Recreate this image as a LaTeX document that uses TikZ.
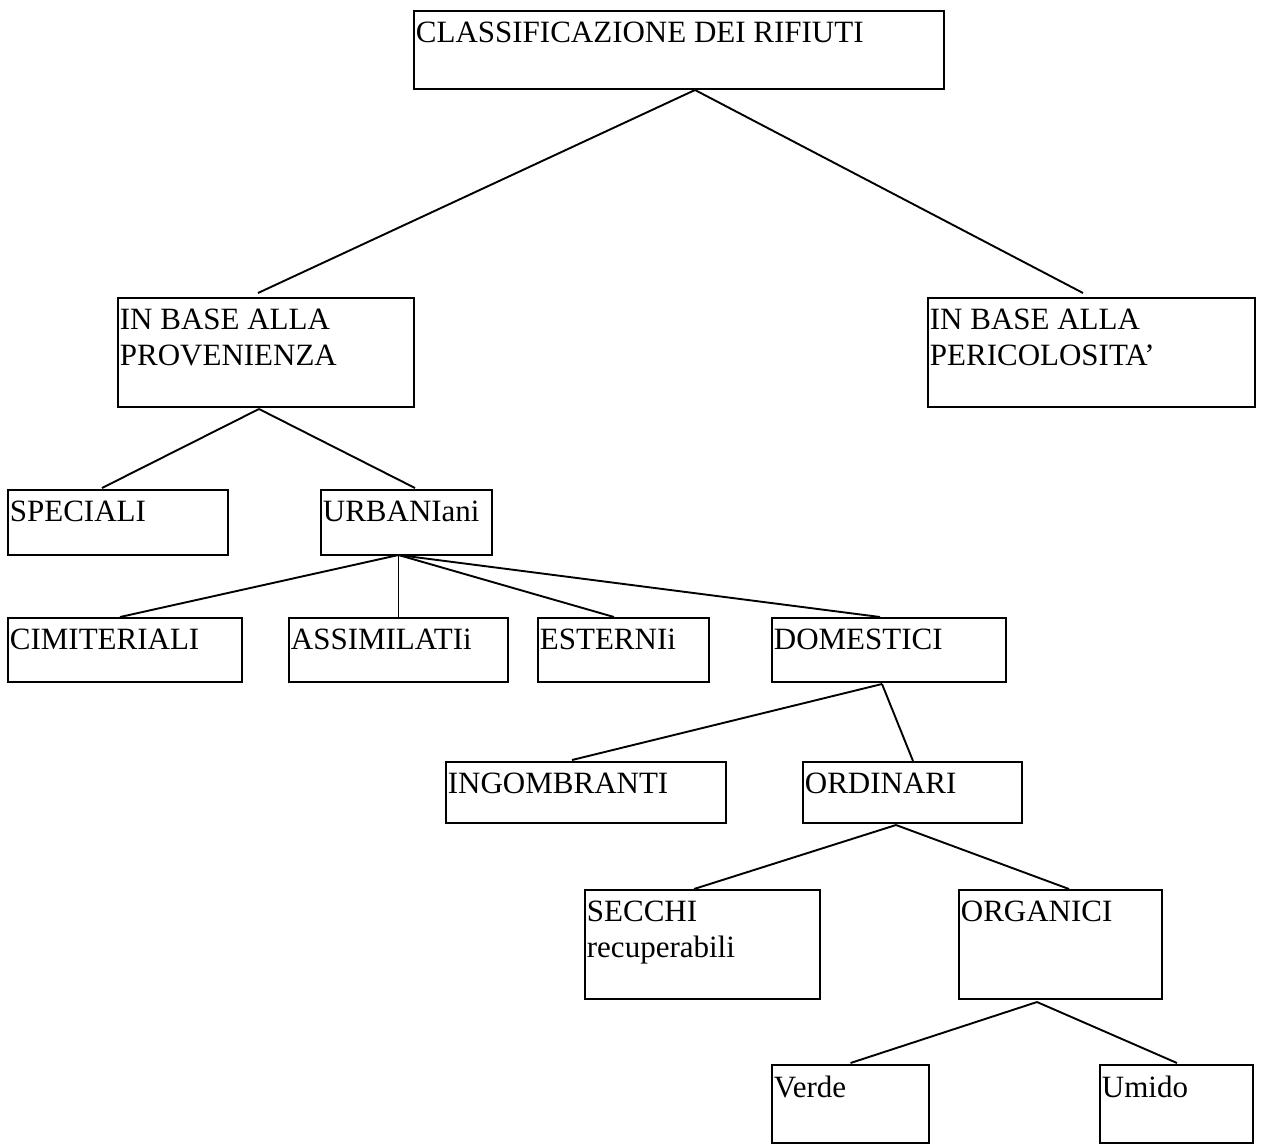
\documentclass[tikz,border=0pt]{standalone}
\usepackage{fontspec}
\setmainfont{Liberation Serif}
\usetikzlibrary{calc}

\tikzset{
  box/.style={draw, line width=1pt, rectangle, anchor=north west, inner sep=0pt, outer sep=0pt},
  lbl/.style={anchor=north west, inner sep=0pt, align=left,
    font=\fontsize{15.5pt}{18pt}\selectfont, xshift=0.75pt, yshift=-5.25pt},
  link/.style={line width=0.95pt}
}

\begin{document}
\begin{tikzpicture}[x=0.5pt, y=-0.5pt]
  \path[use as bounding box, fill=white] (0,0) rectangle (1262,1146);

  % level 0 and 1
  \node[box, minimum width=265pt, minimum height=39pt,
    label={[lbl]north west:CLASSIFICAZIONE DEI RIFIUTI}] (classif) at (414,11) {};
  \node[box, minimum width=148pt, minimum height=54.5pt,
    label={[lbl]north west:IN BASE ALLA\\PROVENIENZA}] (prov) at (118,298) {};
  \node[box, minimum width=163.5pt, minimum height=54.5pt,
    label={[lbl]north west:IN BASE ALLA\\PERICOLOSITA’}] (peric) at (928,298) {};

  % level 2
  \node[box, minimum width=110pt, minimum height=32.5pt,
    label={[lbl]north west:SPECIALI}] (spec) at (8,490) {};
  \node[box, minimum width=85.5pt, minimum height=32.5pt,
    label={[lbl]north west:URBANIani}] (urb) at (321,490) {};

  % level 3
  \node[box, minimum width=117pt, minimum height=32pt,
    label={[lbl]north west:CIMITERIALI}] (cim) at (8,618) {};
  \node[box, minimum width=109.5pt, minimum height=32pt,
    label={[lbl]north west:ASSIMILATIi}] (assim) at (289,618) {};
  \node[box, minimum width=85.5pt, minimum height=32pt,
    label={[lbl]north west:ESTERNIi}] (est) at (538,618) {};
  \node[box, minimum width=117pt, minimum height=32pt,
    label={[lbl]north west:DOMESTICI}] (dom) at (772,618) {};

  % level 4
  \node[box, minimum width=140pt, minimum height=30.5pt,
    label={[lbl]north west:INGOMBRANTI}] (ingo) at (446,762) {};
  \node[box, minimum width=109.5pt, minimum height=30.5pt,
    label={[lbl]north west:ORDINARI}] (ord) at (803,762) {};

  % level 5
  \node[box, minimum width=117.5pt, minimum height=54.5pt,
    label={[lbl]north west:SECCHI\\recuperabili}] (secchi) at (585,890) {};
  \node[box, minimum width=101.5pt, minimum height=54.5pt,
    label={[lbl]north west:ORGANICI}] (org) at (959,890) {};

  % level 6
  \node[box, minimum width=78.5pt, minimum height=39pt,
    label={[lbl]north west:Verde}] (verde) at (772,1065) {};
  \node[box, minimum width=76.5pt, minimum height=39pt,
    label={[lbl]north west:Umido}] (umido) at (1100,1065) {};

  % branch points under each parent
  \coordinate (classif-b) at ($(classif.south)+(16,1)$);
  \coordinate (prov-b) at ($(prov.south)+(-7,2)$);
  \coordinate (urb-b) at ($(urb.south)+(-8,0)$);
  \coordinate (dom-b) at ($(dom.south)+(-7,2)$);
  \coordinate (ord-b) at ($(ord.south)+(-16.5,2)$);
  \coordinate (org-b) at ($(org.south)+(-23.5,3)$);

  % connectors
  \draw[link] (classif-b) -- ($(prov.north)+(-8,-5)$);
  \draw[link] (classif-b) -- ($(peric.north)+(-8.5,-5)$);
  \draw[link] (prov-b) -- ($(spec.north)+(-16,-2)$);
  \draw[link] (prov-b) -- ($(urb.north)+(8.5,-2)$);
  \draw[link] (urb-b) -- ($(cim.north)+(-5,-1)$);
  \draw[link] (urb-b) -- ($(assim.north)+(0,-1)$);
  \draw[link] (urb-b) -- ($(est.north)+(-9.5,-1)$);
  \draw[link] (urb-b) -- ($(dom.north)+(-9,-1)$);
  \draw[link] (dom-b) -- ($(ingo.north)+(-14,-2)$);
  \draw[link] (dom-b) -- ($(ord.north)+(0.5,-1)$);
  \draw[link] (ord-b) -- ($(secchi.north)+(-8.5,-1)$);
  \draw[link] (ord-b) -- ($(org.north)+(8.5,-1)$);
  \draw[link] (org-b) -- ($(verde.north)+(0,-2)$);
  \draw[link] (org-b) -- ($(umido.north)+(0.5,-2)$);
\end{tikzpicture}
\end{document}
